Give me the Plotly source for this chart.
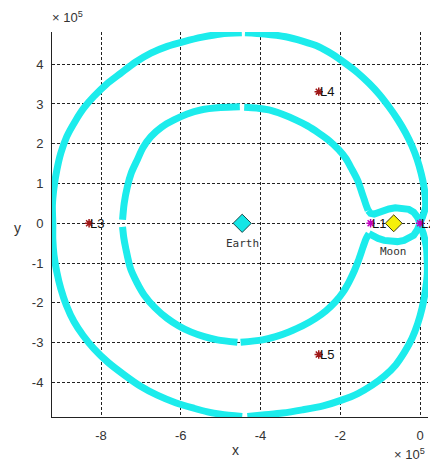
import plotly.graph_objects as go

# ---- data (units of 1e5) ----
outer_right_x = [-4.39, -3.90, -3.37, -2.95, -2.54, -2.20, -1.87, -1.57, -1.28, -1.02, -0.78, -0.56,
                 -0.36, -0.20, -0.07, 0.03, 0.10, 0.13, 0.14, 0.06, 0.00,
                 0.08, 0.16, 0.18, 0.18, 0.13, 0.05, -0.06, -0.20, -0.39, -0.61, -0.88,
                 -1.20, -1.56, -1.95, -2.43, -2.95, -3.45, -3.95, -4.33]
outer_right_y = [4.79, 4.76, 4.69, 4.58, 4.44, 4.25, 4.02, 3.79, 3.52, 3.24, 2.93, 2.61,
                 2.27, 1.94, 1.60, 1.25, 0.92, 0.66, 0.42, 0.15, 0.00,
                 -0.25, -0.60, -0.95, -1.30, -1.72, -2.14, -2.53, -2.89, -3.24, -3.56, -3.83,
                 -4.07, -4.28, -4.44, -4.59, -4.69, -4.77, -4.82, -4.86]

outer_left_x = [-4.46, -5.00, -5.33, -5.67, -6.13, -6.59, -7.02, -7.42, -7.82, -8.18, -8.45,
                -8.68, -8.87, -9.01, -9.11, -9.18, -9.21, -9.21, -9.22, -9.18, -9.11, -9.01,
                -8.86, -8.64, -8.43, -8.18, -7.86, -7.51, -7.14, -6.75, -6.34, -5.92, -5.46,
                -5.00, -4.47]
outer_left_y = [-4.86, -4.80, -4.74, -4.65, -4.51, -4.32, -4.09, -3.81, -3.50, -3.15, -2.82,
                -2.47, -2.06, -1.64, -1.22, -0.80, -0.40, 0.00, 0.45, 0.90, 1.33, 1.76,
                2.18, 2.58, 2.90, 3.19, 3.50, 3.77, 4.05, 4.28, 4.45, 4.57, 4.68,
                4.76, 4.79]

inner_ul_x = [-4.52, -5.00, -5.50, -5.84, -6.17, -6.48, -6.75, -6.95, -7.09, -7.24, -7.34, -7.42, -7.46]
inner_ul_y = [2.93, 2.91, 2.85, 2.75, 2.60, 2.42, 2.18, 1.90, 1.60, 1.27, 0.92, 0.50, 0.09]

inner_ll_x = [-7.46, -7.43, -7.38, -7.26, -7.10, -6.92, -6.65, -6.34, -6.05, -5.75, -5.41, -5.08, -4.58]
inner_ll_y = [-0.09, -0.36, -0.63, -1.14, -1.49, -1.80, -2.12, -2.39, -2.58, -2.73, -2.85, -2.93, -2.99]

inner_lower_x = [-4.50, -3.95, -3.62, -3.29, -2.95, -2.62, -2.36, -2.12, -1.93, -1.78, -1.65,
                 -1.55, -1.43, -1.35, -1.28]
inner_lower_y = [-2.99, -2.93, -2.85, -2.73, -2.58, -2.39, -2.20, -1.97, -1.73, -1.47, -1.20,
                 -0.95, -0.60, -0.38, -0.26]

lobe_x = [-1.28, -1.18, -1.05, -0.90, -0.74, -0.57, -0.40, -0.27, -0.16, -0.07, 0.00,
          -0.06, -0.16, -0.28, -0.45, -0.62, -0.78, -0.93, -1.05, -1.15, -1.24, -1.30]
lobe_y = [-0.26, -0.32, -0.38, -0.43, -0.46, -0.46, -0.43, -0.38, -0.30, -0.17, 0.00,
          0.15, 0.28, 0.35, 0.39, 0.39, 0.36, 0.30, 0.25, 0.23, 0.25, 0.32]

inner_upper_x = [-1.30, -1.35, -1.40, -1.46, -1.57, -1.72, -1.86, -2.04, -2.28, -2.54, -2.82,
                 -3.12, -3.45, -3.79, -4.10, -4.41]
inner_upper_y = [0.32, 0.45, 0.60, 0.78, 1.09, 1.38, 1.63, 1.85, 2.08, 2.27, 2.45,
                 2.60, 2.74, 2.85, 2.90, 2.92]

earth_xy = (-4.46, 0.0)
moon_xy = (-0.66, 0.0)
l12_names = ["L1", "L2"]
l12_x = [-1.24, 0.0]
l12_y = [0.0, 0.0]
l345_names = ["L3", "L4", "L5"]
l345_x = [-8.30, -2.54, -2.54]
l345_y = [0.0, 3.31, -3.30]

x_ticks = [-8, -6, -4, -2, 0]
y_ticks = [-4, -3, -2, -1, 0, 1, 2, 3, 4]

SANS = "Liberation Sans, Arial, Helvetica, sans-serif"
MONO = "DejaVu Sans Mono, monospace"
CYAN = "rgb(28,236,236)"
fig = go.Figure()

for xs, ys, shp in [(outer_right_x, outer_right_y, "spline"), (outer_left_x, outer_left_y, "spline"),
                    (inner_ul_x, inner_ul_y, "spline"), (inner_ll_x, inner_ll_y, "spline"),
                    (inner_lower_x, inner_lower_y, "spline"), (lobe_x, lobe_y, "linear"),
                    (inner_upper_x, inner_upper_y, "spline")]:
    fig.add_trace(go.Scatter(x=xs, y=ys, mode="lines",
                             line=dict(color=CYAN, width=7, shape=shp, smoothing=0.8),
                             hoverinfo="skip", showlegend=False))

fig.add_trace(go.Scatter(x=[earth_xy[0]], y=[earth_xy[1]], mode="markers",
                         marker=dict(symbol="diamond", size=14, color="rgb(20,230,230)",
                                     line=dict(color="#1d4a4a", width=1)),
                         showlegend=False, cliponaxis=False))
fig.add_trace(go.Scatter(x=[moon_xy[0]], y=[moon_xy[1]], mode="markers",
                         marker=dict(symbol="diamond", size=13, color="rgb(245,240,10)",
                                     line=dict(color="#3a3a10", width=1)),
                         showlegend=False, cliponaxis=False))
fig.add_trace(go.Scatter(x=l12_x, y=l12_y, mode="markers",
                         marker=dict(symbol="asterisk-open", size=7, color="#c000c0",
                                     line=dict(color="#c000c0", width=1.5)),
                         showlegend=False, cliponaxis=False))
fig.add_trace(go.Scatter(x=l345_x, y=l345_y, mode="markers",
                         marker=dict(symbol="asterisk-open", size=7, color="#a01818",
                                     line=dict(color="#a01818", width=1.5)),
                         showlegend=False, cliponaxis=False))

annos = []
for n, x, y in list(zip(l12_names, l12_x, l12_y)) + list(zip(l345_names, l345_x, l345_y)):
    annos.append(dict(x=x, y=y, xref="x", yref="y", text=n, showarrow=False,
                      xanchor="left", yanchor="middle", xshift=-1,
                      font=dict(family=SANS, size=13, color="#111")))
annos.append(dict(x=earth_xy[0], y=earth_xy[1], xref="x", yref="y", text="Earth",
                  showarrow=False, xanchor="center", yanchor="middle", yshift=-20,
                  font=dict(family=MONO, size=11, color="#333")))
annos.append(dict(x=moon_xy[0], y=moon_xy[1], xref="x", yref="y", text="Moon",
                  showarrow=False, xanchor="center", yanchor="middle", yshift=-28,
                  font=dict(family=MONO, size=11, color="#333")))
annos.append(dict(x=-0.006, y=1.04, xref="paper", yref="paper", text="× 10<sup>5</sup>",
                  showarrow=False, xanchor="left", yanchor="middle",
                  font=dict(family=SANS, size=13, color="#333")))
annos.append(dict(x=0.904, y=-0.097, xref="paper", yref="paper", text="× 10<sup>5</sup>",
                  showarrow=False, xanchor="left", yanchor="middle",
                  font=dict(family=SANS, size=13, color="#333")))
annos.append(dict(x=0.489, y=-0.086, xref="paper", yref="paper", text="x",
                  showarrow=False, xanchor="center", yanchor="middle",
                  font=dict(family=SANS, size=14, color="#333")))
annos.append(dict(x=-0.093, y=0.491, xref="paper", yref="paper", text="y",
                  showarrow=False, xanchor="center", yanchor="middle",
                  font=dict(family=SANS, size=14, color="#333")))

axis_common = dict(showgrid=True, gridcolor="#222", gridwidth=1, griddash="3px,2px",
                   zeroline=False, showline=True, linecolor="#222", linewidth=1,
                   ticks="", tickfont=dict(family=SANS, size=13, color="#333"),
                   mirror=False)
# page body has an 8px margin; the figure is sized/placed to compensate
fig.update_layout(
    width=430, height=458,
    margin=dict(l=44, r=10, t=24, b=49, autoexpand=False),
    paper_bgcolor="white", plot_bgcolor="white",
    xaxis=dict(range=[-9.23, 0.2], tickvals=x_ticks, ticktext=[str(v) for v in x_ticks],
               ticklabelstandoff=6, **axis_common),
    yaxis=dict(range=[-4.87, 4.81], tickvals=y_ticks, ticktext=[str(v) for v in y_ticks],
               ticklabelstandoff=5, **axis_common),
    annotations=annos,
)
fig.write_html("out.html")
